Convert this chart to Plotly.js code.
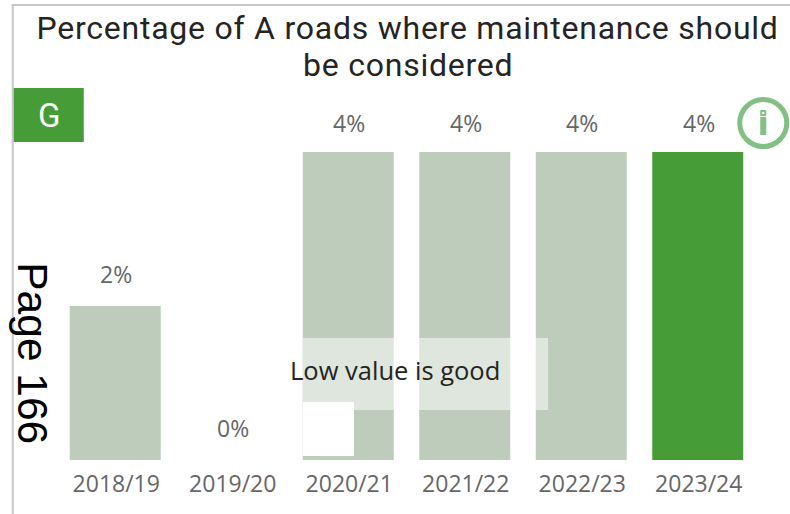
<!DOCTYPE html>
<html><head><meta charset="utf-8">
<script src="https://cdn.plot.ly/plotly-3.0.1.min.js"></script>
<style>html,body{margin:0;padding:0;background:#fff;overflow:hidden}
.annotation[data-index="0"] text,.annotation[data-index="1"] text{letter-spacing:.76px}</style>
</head><body><div id="c" style="width:790px;height:514px"></div>
<script>
const categories = ["2018/19","2019/20","2020/21","2021/22","2022/23","2023/24"];
const values = [2,0,4,4,4,4];
const valueLabels = ["2%","0%","4%","4%","4%","4%"];
const barColors = ["#bdccbb","#bdccbb","#bdccbb","#bdccbb","#bdccbb","#469c36"];
const W=790,H=514;
const M={l:57.25,r:34.25,t:152,b:54};
const PW=W-M.l-M.r,PH=H-M.t-M.b;
const fx=p=>(p-M.l)/PW, fy=p=>1-(p-M.t)/PH;
const rect=(x0,y0,x1,y1,color)=>({type:'rect',xref:'paper',yref:'paper',x0:fx(x0),x1:fx(x1),y0:fy(y0),y1:fy(y1),fillcolor:color,line:{width:0},layer:'above'});
const label='"Open Sans", sans-serif';
const din='Roboto, sans-serif';
const note=(text,x,y,font,extra)=>Object.assign({text,xref:'paper',yref:'paper',x:fx(x),y:fy(y),xanchor:'center',yanchor:'middle',showarrow:false,font},extra||{});
const shapes=[
 rect(12,4,14,514,'#c8c8c8'),
 rect(12,4,790,6,'#c8c8c8'),
 rect(14,88,84,142,'#469c36'),
 rect(303,338,548,410,'rgba(255,255,255,0.5)'),
 rect(303,402,354,456,'#ffffff'),
 {type:'circle',xref:'paper',yref:'paper',x0:fx(739.5),x1:fx(786.5),y0:fy(99.5),y1:fy(146.5),fillcolor:'rgba(0,0,0,0)',line:{color:'#82c083',width:5},layer:'above'},
 rect(760,117,766,135,'#82c083'),
 rect(760,110,766,116,'#82c083'),
 rect(762,112,764,114,'#ffffff')
];
const annotations=[
 note('Percentage of A roads where maintenance should',407.5,28,{family:din,size:32,color:'#252423'}),
 note('be considered',408,65,{family:din,size:32,color:'#252423'}),
 note('G',49,115,{family:din,size:33,color:'#ffffff'}),
 note('Low value is good',395,370,{family:label,size:25.5,color:'#252423'}),
 note('Page 166',33,353,{family:'"Liberation Sans", sans-serif',size:42.5,color:'#000000'},{textangle:90})
];
const maxValue=Math.max(...values);
categories.forEach((c,i)=>annotations.push({text:valueLabels[i],x:c,y:values[i],xref:'x',yref:'y',yanchor:'middle',xanchor:'center',xshift:1,yshift:values[i]===maxValue?29:32,showarrow:false,font:{family:label,size:23,color:'#666666'}}));
Plotly.newPlot('c',[{type:'bar',x:categories,y:values,marker:{color:barColors,line:{width:0}},hoverinfo:'x+y',cliponaxis:false}],{
 width:W,height:H,margin:M,paper_bgcolor:'#fff',plot_bgcolor:'#fff',showlegend:false,bargap:0.219,
 xaxis:{type:'category',showgrid:false,zeroline:false,showline:false,ticks:'',ticklabelstandoff:8,ticklabelshift:1,tickfont:{family:label,size:23,color:'#666666'}},
 yaxis:{range:[0,4],visible:false,showgrid:false,zeroline:false},
 shapes,annotations
},{displayModeBar:false,responsive:false});
</script></body></html>
